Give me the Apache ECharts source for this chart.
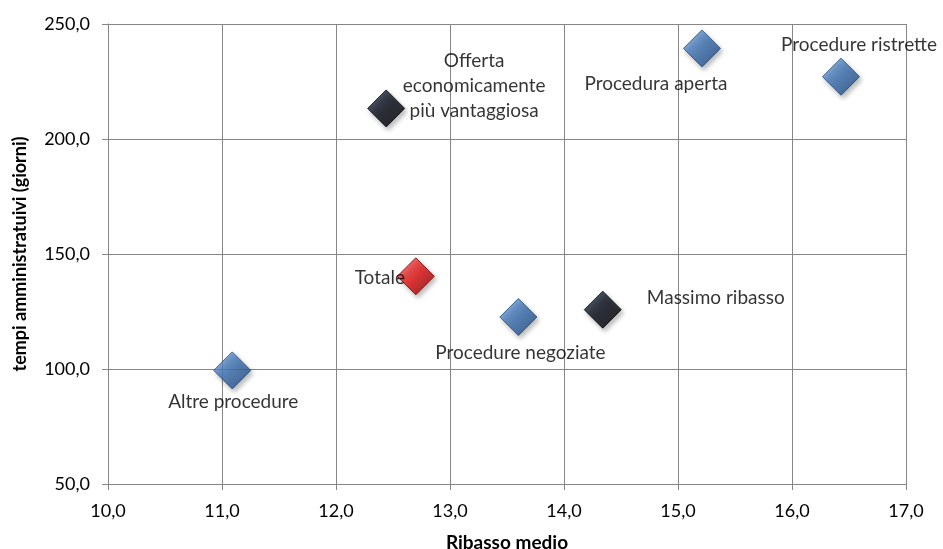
<!DOCTYPE html>
<html><head><meta charset="utf-8">
<script src="https://cdn.jsdelivr.net/npm/echarts@6/dist/echarts.min.js"></script>
<style>html,body{margin:0;padding:0;background:#fff}#c{width:943px;height:549px}</style>
</head><body><div id="c"></div>
<script>
const names = ['Altre procedure','Offerta\neconomicamente\npiù vantaggiosa','Totale','Procedure negoziate','Massimo ribasso','Procedura aperta','Procedure ristrette'];
const ribasso = [11.09, 12.44, 12.70, 13.60, 14.34, 15.21, 16.43];
const tempi = [99.4, 213.3, 140.3, 122.6, 125.8, 239.4, 227.1];
const groups = ['tipo','criterio','totale','tipo','criterio','tipo','tipo'];
const xTicks = {min: 10, max: 17, interval: 1};
const yTicks = {min: 50, max: 250, interval: 50};

const palette = {
  tipo: ['#7fb0e8', '#3a6eb0', '#1f4677'],
  criterio: ['#2c3a58', '#070b16', '#000000'],
  totale: ['#ff6a6a', '#e41212', '#7a0000']
};
const labelOffsets = [[1, 31], [88, -23], [-36, 2], [2, 36], [113, -12], [-46, 35], [18, -32]];
const fmt = v => v.toFixed(1).replace('.', ',');
const font = 'Lato, "Open Sans", sans-serif';

const data = names.map((n, i) => {
  const c = palette[groups[i]];
  return {
    name: n,
    value: [ribasso[i], tempi[i]],
    itemStyle: {
      color: {type: 'linear', x: 0, y: 0, x2: 1, y2: 1, colorStops: [
        {offset: 0, color: c[0]}, {offset: 0.5, color: c[1]}, {offset: 1, color: c[2]}]},
      borderColor: c[2], borderWidth: 1,
      shadowBlur: 5, shadowColor: 'rgba(0,0,0,0.35)', shadowOffsetX: 2, shadowOffsetY: 3
    },
    label: {offset: labelOffsets[i]}
  };
});

const chart = echarts.init(document.getElementById('c'));
chart.setOption({
  animation: false,
  grid: {left: 108, right: 37, top: 24, bottom: 65, outerBoundsMode: 'none', containLabel: false},
  xAxis: {
    type: 'value', min: xTicks.min, max: xTicks.max, interval: xTicks.interval,
    name: 'Ribasso medio', nameLocation: 'middle', nameGap: 49,
    nameTextStyle: {fontFamily: font, fontWeight: 'bold', fontSize: 19, color: '#000'},
    axisLine: {show: true, lineStyle: {color: '#868686'}},
    axisTick: {show: true, length: 6, lineStyle: {color: '#868686'}},
    axisLabel: {formatter: fmt, fontFamily: font, fontSize: 18, color: '#000', margin: 18},
    splitLine: {show: true, lineStyle: {color: '#868686', width: 1}}
  },
  yAxis: {
    type: 'value', min: yTicks.min, max: yTicks.max, interval: yTicks.interval,
    name: 'tempi amministratuivi (giorni)', nameLocation: 'middle', nameGap: 79, nameRotate: 90,
    nameTextStyle: {fontFamily: font, fontWeight: 'bold', fontSize: 18, color: '#000'},
    axisLine: {show: true, lineStyle: {color: '#868686'}},
    axisTick: {show: true, length: 6, lineStyle: {color: '#868686'}},
    axisLabel: {formatter: fmt, fontFamily: font, fontSize: 18, color: '#000', margin: 18},
    splitLine: {show: true, lineStyle: {color: '#868686', width: 1}}
  },
  series: [{
    type: 'scatter',
    symbol: 'diamond',
    symbolSize: [37, 37],
    data: data,
    label: {
      show: true, position: 'inside', formatter: p => p.name,
      fontFamily: font, fontSize: 19, color: '#000', lineHeight: 25, align: 'center'
    }
  }]
});
</script></body></html>
